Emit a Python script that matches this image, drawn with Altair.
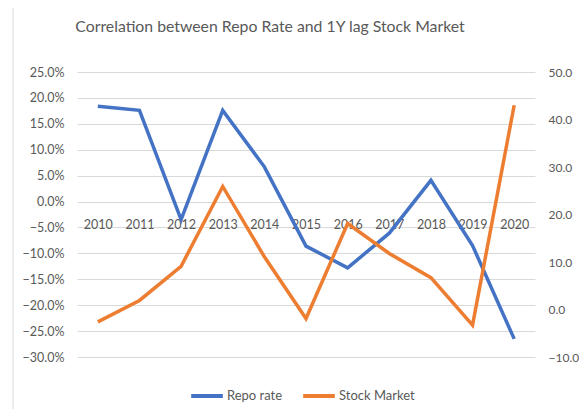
import altair as alt
import pandas as pd

years = ["2010", "2011", "2012", "2013", "2014", "2015", "2016", "2017", "2018", "2019", "2020"]
repo_rate = [0.184, 0.176, -0.035, 0.176, 0.067, -0.086, -0.128, -0.061, 0.041, -0.085, -0.265]
stock_market = [-2.6, 1.9, 9.1, 25.9, 11.1, -1.9, 18.1, 11.8, 6.7, -3.3, 43.0]
series_names = ["Repo rate", "Stock Market"]
series_colors = ["#4472C4", "#ED7D31"]
title_text = "Correlation between Repo Rate and 1Y lag Stock Market"

df = pd.DataFrame({"year": years * 2,
                   "series": [series_names[0]] * len(years) + [series_names[1]] * len(years),
                   "value": repo_rate + stock_market})

FONT = "Lato"
GRAY = "#595959"

x_enc = alt.X("year:O", sort=years, title=None,
              scale=alt.Scale(padding=0.5),
              axis=alt.Axis(orient="bottom", offset=-155.5, labelAngle=0, domain=False,
                            ticks=False, grid=False, labelPadding=17, labelFontSize=12.5,
                            labelColor=GRAY, labelFont=FONT))

color_enc = alt.Color("series:N", title=None,
                      scale=alt.Scale(domain=series_names, range=series_colors),
                      legend=alt.Legend(orient="none", legendX=112, legendY=306, direction="horizontal",
                                        symbolType="stroke", symbolStrokeWidth=4, symbolSize=1000,
                                        labelFont=FONT, labelFontSize=13, labelColor=GRAY,
                                        columnPadding=12, labelOffset=2))

base = alt.Chart(df)

left = base.transform_filter(alt.datum.series == series_names[0]).mark_line(strokeWidth=3.5).encode(
    x=x_enc,
    y=alt.Y("value:Q", title=None,
            scale=alt.Scale(domain=[-0.30, 0.25], nice=False, zero=False),
            axis=alt.Axis(orient="left", format=".1%", values=[i / 100 for i in range(-30, 26, 5)],
                          domain=False, ticks=False, grid=True, gridColor="#d9d9d9",
                          labelFont=FONT, labelFontSize=12.5, labelColor=GRAY, labelPadding=13)),
    color=color_enc,
)

right = base.transform_filter(alt.datum.series == series_names[1]).mark_line(strokeWidth=3.5).encode(
    x=x_enc,
    y=alt.Y("value:Q", title=None,
            scale=alt.Scale(domain=[-10, 50], nice=False, zero=False),
            axis=alt.Axis(orient="right", format=".1f", values=list(range(-10, 51, 10)),
                          domain=False, ticks=False, grid=False,
                          labelFont=FONT, labelFontSize=12, labelColor=GRAY, labelPadding=13)),
    color=color_enc,
)

one = alt.Chart(pd.DataFrame({"a": [0]}))
border = one.mark_rect(fill=None, stroke="#d9d9d9", strokeWidth=1).encode(
    x=alt.value(-64), x2=alt.value(540), y=alt.value(-67), y2=alt.value(360)
)
title = one.mark_text(text=title_text, font=FONT, fontSize=15.8, color=GRAY,
                      align="center", baseline="alphabetic").encode(
    x=alt.value(193), y=alt.value(-40)
)

chart = alt.layer(border, title, left, right).resolve_scale(y="independent").properties(
    width=458, height=285,
    autosize=alt.AutoSizeParams(type="none"),
    padding={"left": 69, "top": 64, "right": 44, "bottom": 52},
).configure_view(stroke=None)

chart.save("out.html", embed_options={"renderer": "svg", "actions": False})
